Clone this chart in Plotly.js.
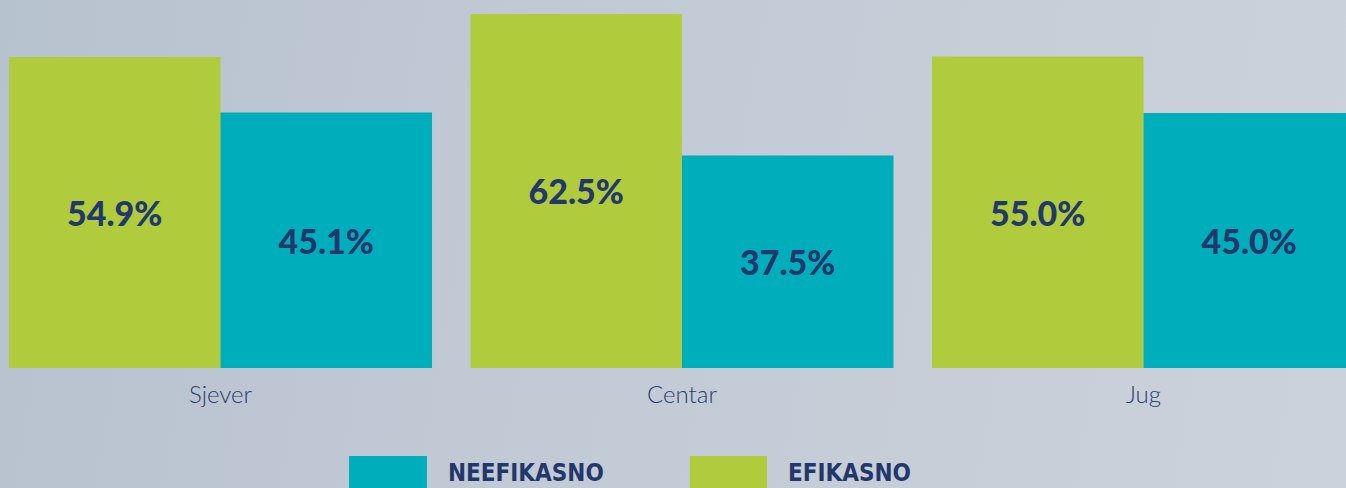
<!DOCTYPE html>
<html>
<head>
<meta charset="utf-8">
<script src="https://cdn.plot.ly/plotly-3.0.1.min.js"></script>
<style>
html,body{margin:0;padding:0;width:1346px;height:488px;overflow:hidden;
background:linear-gradient(100deg,#b7c2cf 0%,#c2cad5 45%,#cbd2db 100%);}
#chart{width:1346px;height:488px;}
</style>
</head>
<body>
<div id="chart"></div>
<script>
const categories = ["Sjever", "Centar", "Jug"];
const seriesNames = ["EFIKASNO", "NEEFIKASNO"];
const efikasno = [54.9, 62.5, 55.0];
const neefikasno = [45.1, 37.5, 45.0];
const colors = {EFIKASNO: "#b0cb3b", NEEFIKASNO: "#00aebb"};
const navy = "#22386c";

function fmt(v){ return v.toFixed(1) + "%"; }

const labelFont = {family: "Lato, 'Open Sans', sans-serif", size: 34, weight: 900, color: navy};

const traces = [
  {type:"bar", name: seriesNames[0], x: categories, y: efikasno,
   marker:{color: colors.EFIKASNO}, text: efikasno.map(fmt), textposition:"inside",
   insidetextanchor:"middle", textfont: labelFont, constraintext:"none", hoverinfo:"skip", cliponaxis:true},
  {type:"bar", name: seriesNames[1], x: categories, y: neefikasno,
   marker:{color: colors.NEEFIKASNO}, text: neefikasno.map(fmt), textposition:"inside",
   insidetextanchor:"middle", textfont: labelFont, constraintext:"none", hoverinfo:"skip", cliponaxis:true}
];

// legend drawn as shapes + annotations (order: NEEFIKASNO, EFIKASNO)
const legendItems = [seriesNames[1], seriesNames[0]];
const legendBoxX = [[0.2593, 0.3172], [0.5126, 0.5698]];
const legendTextX = [0.3310, 0.5840];
const shapes = legendItems.map((n,i)=>({type:"rect", xref:"paper", yref:"paper",
  x0: legendBoxX[i][0], x1: legendBoxX[i][1], y0: -0.239, y1: -0.40,
  fillcolor: colors[n], line:{width:0}, layer:"above"}));
const annotations = legendItems.map((n,i)=>({xref:"paper", yref:"paper",
  x: legendTextX[i], y: -0.285, xanchor:"left", yanchor:"middle", showarrow:false,
  text: n, font:{family:"'DejaVu Sans Condensed', 'Liberation Sans Narrow', sans-serif", size:24, weight:700, color: navy}}));

const layout = {
  width:1346, height:488,
  margin:{l:0, r:0, t:0, b:120, pad:0},
  paper_bgcolor:"rgba(0,0,0,0)", plot_bgcolor:"rgba(0,0,0,0)",
  barmode:"group", bargap:0.0834, bargroupgap:0,
  showlegend:false,
  xaxis:{range:[-0.4778, 2.4388], showgrid:false, zeroline:false, showline:false,
    ticks:"", tickfont:{family:"Lato, 'Open Sans', sans-serif", size:24, weight:300, color:"#2a3d6e"},
    ticklabelstandoff: 10, fixedrange:true},
  yaxis:{range:[0, 64.97], visible:false, fixedrange:true},
  shapes: shapes,
  annotations: annotations
};

Plotly.newPlot("chart", traces, layout, {displayModeBar:false, staticPlot:true});
</script>
</body>
</html>
